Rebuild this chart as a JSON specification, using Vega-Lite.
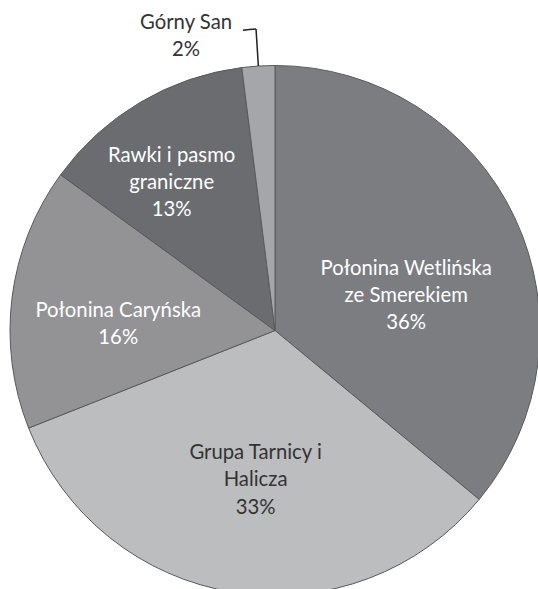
{
  "$schema": "https://vega.github.io/schema/vega-lite/v6.json",
  "width": 538,
  "height": 589,
  "autosize": "none",
  "padding": {"left": 6, "top": 36, "right": -6, "bottom": -36},
  "background": "white",
  "view": {"stroke": null},
  "data": {
    "values": [
      {"name": "Połonina Wetlińska ze Smerekiem", "label": "Połonina Wetlińska\nze Smerekiem", "value": 36},
      {"name": "Grupa Tarnicy i Halicza", "label": "Grupa Tarnicy i\nHalicza", "value": 33},
      {"name": "Połonina Caryńska", "label": "Połonina Caryńska", "value": 16},
      {"name": "Rawki i pasmo graniczne", "label": "Rawki i pasmo\ngraniczne", "value": 13},
      {"name": "Górny San", "label": "Górny San", "value": 2}
    ]
  },
  "transform": [
    {"window": [{"op": "row_number", "as": "idx"}, {"op": "sum", "field": "value", "as": "cum"}], "frame": [null, 0]},
    {"calculate": "datum.cum - datum.value / 2", "as": "mid"},
    {"calculate": "datum.label + '\\n' + datum.value + '%'", "as": "text"}
  ],
  "layer": [
    {
      "mark": {"type": "arc", "radius": 265, "stroke": "#5a5a5c", "strokeWidth": 1},
      "encoding": {
        "theta": {"field": "value", "type": "quantitative", "stack": true, "scale": {"domain": [0, 100]}},
        "order": {"field": "idx", "type": "quantitative"},
        "color": {
          "field": "name",
          "type": "nominal",
          "scale": {
            "domain": ["Połonina Wetlińska ze Smerekiem", "Grupa Tarnicy i Halicza", "Połonina Caryńska", "Rawki i pasmo graniczne", "Górny San"],
            "range": ["#7c7d81", "#bcbdbf", "#939396", "#6b6c70", "#a5a6a9"]
          },
          "legend": null
        }
      }
    },
    {
      "transform": [{"filter": "datum.name === 'Górny San'"}],
      "mark": {"type": "arc", "radius": 302, "radius2": 265, "filled": false, "stroke": "#222222", "strokeWidth": 1.5},
      "encoding": {
        "theta": {"field": "mid", "type": "quantitative", "stack": null},
        "theta2": {"field": "mid"}
      }
    },
    {
      "transform": [{"filter": "datum.name === 'Górny San'"}],
      "mark": {"type": "arc", "radius": 302, "radius2": 302, "thetaOffset": -0.044, "filled": false, "stroke": "#222222", "strokeWidth": 1.5},
      "encoding": {
        "theta": {"field": "mid", "type": "quantitative", "stack": null},
        "theta2": {"field": "mid"}
      }
    },
    {
      "transform": [{"filter": "datum.name === 'Połonina Wetlińska ze Smerekiem'"}],
      "mark": {"type": "text", "radius": 145, "font": "Lato", "fontSize": 20.3, "lineBreak": "\n", "lineHeight": 27.3, "align": "center", "baseline": "middle", "color": "#ffffff"},
      "encoding": {
        "theta": {"field": "mid", "type": "quantitative", "stack": null},
        "text": {"field": "text"}
      }
    },
    {
      "transform": [{"filter": "datum.name === 'Grupa Tarnicy i Halicza'"}],
      "mark": {"type": "text", "radius": 124, "font": "Lato", "fontSize": 20.3, "lineBreak": "\n", "lineHeight": 27.3, "align": "center", "baseline": "middle", "color": "#333333"},
      "encoding": {
        "theta": {"field": "mid", "type": "quantitative", "stack": null},
        "text": {"field": "text"}
      }
    },
    {
      "transform": [{"filter": "datum.name === 'Połonina Caryńska'"}],
      "mark": {"type": "text", "radius": 158, "font": "Lato", "fontSize": 20.3, "lineBreak": "\n", "lineHeight": 27.3, "align": "center", "baseline": "middle", "color": "#ffffff"},
      "encoding": {
        "theta": {"field": "mid", "type": "quantitative", "stack": null},
        "text": {"field": "text"}
      }
    },
    {
      "transform": [{"filter": "datum.name === 'Rawki i pasmo graniczne'"}],
      "mark": {"type": "text", "radius": 203, "font": "Lato", "fontSize": 20.3, "lineBreak": "\n", "lineHeight": 27.3, "align": "center", "baseline": "middle", "color": "#ffffff"},
      "encoding": {
        "theta": {"field": "mid", "type": "quantitative", "stack": null},
        "text": {"field": "text"}
      }
    },
    {
      "transform": [{"filter": "datum.name === 'Górny San'"}],
      "mark": {"type": "text", "radius": 302, "dx": -70, "dy": -6, "font": "Lato", "fontSize": 20.3, "lineBreak": "\n", "lineHeight": 27.3, "align": "center", "baseline": "middle", "color": "#333333"},
      "encoding": {
        "theta": {"field": "mid", "type": "quantitative", "stack": null},
        "text": {"field": "text"}
      }
    }
  ]
}
